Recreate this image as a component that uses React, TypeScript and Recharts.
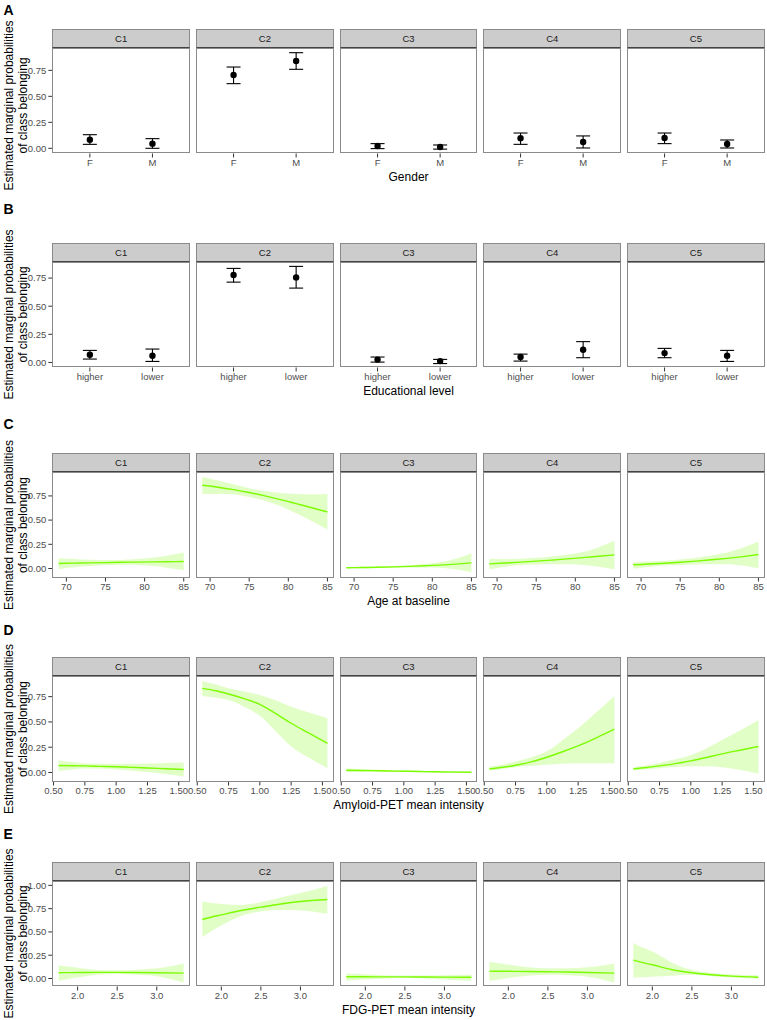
import React from 'react';
import { ComposedChart, XAxis, YAxis, Scatter, ErrorBar, Area, Line } from 'recharts';

// ---------- DATA ----------
const classes = ['C1', 'C2', 'C3', 'C4', 'C5'];

// Row A: Gender
const genderCats = ['F', 'M'];
const genderFit = [[0.083, 0.045], [0.705, 0.84], [0.022, 0.013], [0.096, 0.061], [0.099, 0.042]];
const genderLo = [[0.038, 0.0], [0.622, 0.76], [-0.003, -0.008], [0.038, 0.003], [0.045, 0.003]];
const genderHi = [[0.131, 0.093], [0.782, 0.92], [0.045, 0.032], [0.147, 0.119], [0.147, 0.08]];

// Row B: Educational level
const eduCats = ['higher', 'lower'];
const eduFit = [[0.068, 0.06], [0.777, 0.756], [0.025, 0.012], [0.048, 0.113], [0.083, 0.06]];
const eduLo = [[0.03, 0.009], [0.714, 0.661], [0.003, -0.01], [0.012, 0.042], [0.042, 0.009]];
const eduHi = [[0.107, 0.119], [0.836, 0.854], [0.048, 0.027], [0.074, 0.185], [0.125, 0.107]];

// Row C: Age at baseline
const ageX = [69, 71, 73, 75, 77, 79, 81, 83, 85];
const ageFit = [
  [0.052, 0.055, 0.058, 0.061, 0.064, 0.066, 0.068, 0.07, 0.072],
  [0.86, 0.84, 0.815, 0.785, 0.75, 0.712, 0.67, 0.628, 0.585],
  [0.007, 0.01, 0.013, 0.017, 0.022, 0.028, 0.035, 0.045, 0.058],
  [0.048, 0.057, 0.066, 0.076, 0.087, 0.099, 0.112, 0.126, 0.141],
  [0.038, 0.046, 0.054, 0.064, 0.076, 0.09, 0.105, 0.123, 0.144],
];
const ageLo = [
  [-0.007, 0.012, 0.025, 0.035, 0.04, 0.036, 0.025, 0.006, -0.017],
  [0.77, 0.77, 0.765, 0.74, 0.7, 0.645, 0.57, 0.49, 0.4],
  [0.0, 0.003, 0.006, 0.008, 0.01, 0.01, 0.008, -0.01, -0.04],
  [-0.007, 0.018, 0.035, 0.042, 0.045, 0.043, 0.035, 0.018, -0.007],
  [-0.003, 0.018, 0.03, 0.037, 0.042, 0.045, 0.045, 0.03, 0.0],
];
const ageHi = [
  [0.107, 0.097, 0.09, 0.087, 0.088, 0.097, 0.11, 0.135, 0.165],
  [0.946, 0.91, 0.87, 0.83, 0.8, 0.78, 0.77, 0.768, 0.77],
  [0.014, 0.017, 0.02, 0.026, 0.034, 0.046, 0.065, 0.1, 0.158],
  [0.1, 0.097, 0.1, 0.11, 0.125, 0.145, 0.17, 0.22, 0.286],
  [0.065, 0.072, 0.08, 0.092, 0.11, 0.135, 0.165, 0.215, 0.279],
];

// Row D: Amyloid-PET mean intensity
const amyX = [0.54, 0.65, 0.75, 0.875, 1.0, 1.125, 1.25, 1.4, 1.54];
const amyFit = [
  [0.069, 0.067, 0.065, 0.061, 0.057, 0.051, 0.045, 0.037, 0.03],
  [0.832, 0.808, 0.776, 0.73, 0.674, 0.585, 0.487, 0.385, 0.289],
  [0.023, 0.02, 0.018, 0.015, 0.013, 0.01, 0.007, 0.004, 0.002],
  [0.036, 0.052, 0.072, 0.105, 0.151, 0.205, 0.263, 0.345, 0.428],
  [0.036, 0.05, 0.066, 0.088, 0.115, 0.148, 0.184, 0.222, 0.257],
];
const amyLo = [
  [0.016, 0.03, 0.04, 0.037, 0.03, 0.018, 0.005, -0.018, -0.04],
  [0.757, 0.74, 0.717, 0.65, 0.56, 0.41, 0.257, 0.14, 0.043],
  [0.003, 0.005, 0.006, 0.006, 0.005, 0.003, 0.0, -0.003, -0.006],
  [0.02, 0.035, 0.053, 0.066, 0.076, 0.086, 0.092, 0.092, 0.092],
  [0.02, 0.032, 0.043, 0.054, 0.0625, 0.062, 0.053, 0.025, -0.013],
];
const amyHi = [
  [0.122, 0.104, 0.09, 0.086, 0.085, 0.086, 0.09, 0.095, 0.1],
  [0.905, 0.87, 0.832, 0.8, 0.766, 0.715, 0.65, 0.59, 0.536],
  [0.04, 0.035, 0.03, 0.025, 0.021, 0.017, 0.014, 0.012, 0.01],
  [0.059, 0.08, 0.109, 0.15, 0.21, 0.32, 0.4375, 0.6, 0.757],
  [0.053, 0.072, 0.095, 0.13, 0.171, 0.24, 0.322, 0.42, 0.52],
];

// Row E: FDG-PET mean intensity
const fdgX = [1.76, 1.88, 2.0, 2.25, 2.5, 2.75, 3.0, 3.34];
const fdgFit = [
  [0.062, 0.063, 0.064, 0.066, 0.066, 0.064, 0.062, 0.058],
  [0.633, 0.66, 0.683, 0.73, 0.766, 0.8, 0.827, 0.849],
  [0.018, 0.018, 0.018, 0.017, 0.017, 0.016, 0.015, 0.014],
  [0.079, 0.078, 0.077, 0.075, 0.072, 0.069, 0.065, 0.058],
  [0.198, 0.17, 0.147, 0.094, 0.061, 0.04, 0.025, 0.014],
];
const fdgLo = [
  [-0.025, -0.005, 0.01, 0.04, 0.047, 0.04, 0.025, -0.043],
  [0.442, 0.51, 0.568, 0.67, 0.72, 0.735, 0.73, 0.694],
  [-0.025, -0.016, -0.01, 0.0, 0.004, 0.0, -0.01, -0.025],
  [-0.025, -0.01, 0.005, 0.03, 0.04, 0.035, 0.02, -0.043],
  [0.011, 0.013, 0.018, 0.03, 0.04, 0.025, 0.011, -0.004],
];
const fdgHi = [
  [0.14, 0.128, 0.115, 0.092, 0.088, 0.095, 0.11, 0.162],
  [0.827, 0.81, 0.8, 0.79, 0.82, 0.87, 0.917, 0.993],
  [0.054, 0.05, 0.045, 0.035, 0.032, 0.032, 0.035, 0.04],
  [0.18, 0.165, 0.15, 0.12, 0.11, 0.11, 0.12, 0.162],
  [0.381, 0.33, 0.29, 0.17, 0.09, 0.06, 0.043, 0.036],
];

const yTicks4 = [0, 0.25, 0.5, 0.75];
const yTicks5 = [0, 0.25, 0.5, 0.75, 1.0];
const ageTicks = [70, 75, 80, 85];
const amyTicks = [0.5, 0.75, 1.0, 1.25, 1.5];
const fdgTicks = [2.0, 2.5, 3.0];

// ---------- BUILD TABLES ----------
const pointTable = (fit: number[][], lo: number[][], hi: number[][]) =>
  fit.map((f, ci) => f.map((v, i) => ({ x: i + 1, y: v, err: [v - lo[ci][i], hi[ci][i] - v] })));
const curveTable = (xs: number[], fit: number[][], lo: number[][], hi: number[][]) =>
  fit.map((f, ci) => xs.map((x, i) => ({ x, fit: f[i], band: [lo[ci][i], hi[ci][i]] })));

type Row = {
  letter: string;
  letterY: number;
  titleShift: number;
  top: number;
  title: string;
  kind: 'point' | 'curve';
  data: any[][];
  xDomain: [number, number];
  xTicks: number[];
  xFmt: (v: number) => string;
  yDomain: [number, number];
  yTicks: number[];
};

const rows: Row[] = [
  {
    letter: 'A', letterY: 9.5, titleShift: 5, top: 28.7, title: 'Gender', kind: 'point',
    data: pointTable(genderFit, genderLo, genderHi), xDomain: [0.4, 2.6], xTicks: [1, 2],
    xFmt: (v) => genderCats[Math.round(v) - 1] ?? '', yDomain: [-0.05, 0.965], yTicks: yTicks4,
  },
  {
    letter: 'B', letterY: 209, titleShift: 0, top: 242.7, title: 'Educational level', kind: 'point',
    data: pointTable(eduFit, eduLo, eduHi), xDomain: [0.4, 2.6], xTicks: [1, 2],
    xFmt: (v) => eduCats[Math.round(v) - 1] ?? '', yDomain: [-0.045, 0.893], yTicks: yTicks4,
  },
  {
    letter: 'C', letterY: 424, titleShift: 0, top: 453.3, title: 'Age at baseline', kind: 'curve',
    data: curveTable(ageX, ageFit, ageLo, ageHi), xDomain: [68.2, 85.8], xTicks: ageTicks,
    xFmt: (v) => String(v), yDomain: [-0.093, 0.997], yTicks: yTicks4,
  },
  {
    letter: 'D', letterY: 630, titleShift: 0, top: 657.3, title: 'Amyloid-PET mean intensity', kind: 'curve',
    data: curveTable(amyX, amyFit, amyLo, amyHi), xDomain: [0.49, 1.59], xTicks: amyTicks,
    xFmt: (v) => v.toFixed(2), yDomain: [-0.089, 0.954], yTicks: yTicks4,
  },
  {
    letter: 'E', letterY: 834, titleShift: 0, top: 861.7, title: 'FDG-PET mean intensity', kind: 'curve',
    data: curveTable(fdgX, fdgFit, fdgLo, fdgHi), xDomain: [1.68, 3.42], xTicks: fdgTicks,
    xFmt: (v) => v.toFixed(1), yDomain: [-0.086, 1.047], yTicks: yTicks5,
  },
];

// ---------- LAYOUT ----------
const FONT = '"Liberation Sans", Arial, Helvetica, sans-serif';
const PANEL_LEFT0 = 52.3;
const PANEL_STEP = 143.7;
const PANEL_W = 137.7;
const STRIP_H = 19;
const PLOT_H = 105.5;
const XAXIS_H = 22;
const PAD = 10;
const GREEN = '#7CFC00';
const BORDER = '#8a8a8a';

const tickStyle = { fill: '#4d4d4d', fontSize: 9.5, fontFamily: FONT };

function Panel({ row, ci }: { row: Row; ci: number }) {
  const left = PANEL_LEFT0 + ci * PANEL_STEP;
  const showY = ci === 0;
  const yW = showY ? left : 0;
  const padL = showY ? 0 : PAD;
  const chartLeft = showY ? 0 : left - PAD;
  const chartW = PANEL_W + yW + padL + PAD;
  const plotTop = row.top + STRIP_H;
  return (
    <>
      <div
        style={{
          position: 'absolute', left, top: row.top, width: PANEL_W, height: STRIP_H,
          background: '#cccccc', boxSizing: 'border-box', border: `1px solid ${BORDER}`,
          borderBottom: '1.5px solid #444', display: 'flex', alignItems: 'center',
          justifyContent: 'center', fontFamily: FONT, fontSize: 9.5, color: '#1a1a1a',
        }}
      >
        {classes[ci]}
      </div>
      <div style={{ position: 'absolute', left: chartLeft, top: plotTop }}>
        <ComposedChart
          width={chartW}
          height={PLOT_H + XAXIS_H}
          data={row.data[ci]}
          margin={{ top: 0, right: PAD, bottom: 0, left: padL }}
        >
          <XAxis
            dataKey="x"
            type="number"
            domain={row.xDomain}
            ticks={row.xTicks}
            tickFormatter={row.xFmt}
            interval={0}
            allowDataOverflow
            height={XAXIS_H}
            tickSize={4}
            axisLine={false}
            tick={tickStyle}
            tickLine={{ stroke: '#333333' }}
          />
          <YAxis
            type="number"
            domain={row.yDomain}
            ticks={row.yTicks}
            tickFormatter={(v: number) => v.toFixed(2)}
            interval={0}
            allowDataOverflow
            width={showY ? yW : 0}
            hide={!showY}
            tickSize={4}
            axisLine={false}
            tick={tickStyle}
            tickLine={{ stroke: '#333333' }}
          />
          {row.kind === 'point' ? (
            <Scatter
              dataKey="y"
              isAnimationActive={false}
              shape={(p: any) => <circle cx={p.cx} cy={p.cy} r={3.2} fill="#000" />}
            >
              <ErrorBar dataKey="err" direction="y" width={7} stroke="#000" strokeWidth={1.1} />
            </Scatter>
          ) : null}
          {row.kind === 'curve' ? (
            <Area
              dataKey="band"
              type="monotone"
              stroke="none"
              fill={GREEN}
              fillOpacity={0.22}
              isAnimationActive={false}
              activeDot={false}
            />
          ) : null}
          {row.kind === 'curve' ? (
            <Line
              dataKey="fit"
              type="monotone"
              stroke={GREEN}
              strokeWidth={1.4}
              dot={false}
              activeDot={false}
              isAnimationActive={false}
            />
          ) : null}
        </ComposedChart>
      </div>
      <div
        style={{
          position: 'absolute', left, top: plotTop, width: PANEL_W, height: PLOT_H,
          boxSizing: 'border-box', border: `1px solid ${BORDER}`, pointerEvents: 'none',
        }}
      />
    </>
  );
}

export default function App() {
  const midX = PANEL_LEFT0 + (4 * PANEL_STEP + PANEL_W) / 2;
  return (
    <div style={{ position: 'absolute', left: 0, top: 0, width: 767, height: 1020, background: '#fff', overflow: 'hidden' }}>
      <svg width={767} height={1020} style={{ position: 'absolute', left: 0, top: 0 }}>
        {rows.map((row) => {
          const cy = row.top + STRIP_H + PLOT_H / 2 + row.titleShift;
          const plotBottom = row.top + STRIP_H + PLOT_H;
          return (
            <g key={row.letter} fontFamily={FONT}>
              <text x={3.5} y={row.letterY} fontSize={14} fontWeight="bold" dominantBaseline="central" fill="#000">
                {row.letter}
              </text>
              <text transform={`translate(8.5, ${cy}) rotate(-90)`} textAnchor="middle" dominantBaseline="central" fontSize={12} fill="#000">
                Estimated marginal probabilities
              </text>
              <text transform={`translate(22.5, ${cy}) rotate(-90)`} textAnchor="middle" dominantBaseline="central" fontSize={12} fill="#000">
                of class belonging
              </text>
              <text x={midX} y={plotBottom + 23.5} textAnchor="middle" dominantBaseline="central" fontSize={12} fill="#000">
                {row.title}
              </text>
            </g>
          );
        })}
      </svg>
      {rows.map((row) => classes.map((c, ci) => <Panel key={row.letter + c} row={row} ci={ci} />))}
    </div>
  );
}
